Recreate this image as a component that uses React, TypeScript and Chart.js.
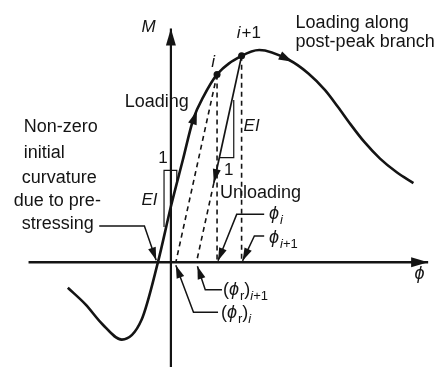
import React, { useEffect, useRef } from "react";
import { Chart, registerables } from "chart.js";

Chart.register(...registerables);

// Moment–curvature response (curvature phi, moment M), schematic units
const curvePhi = [-10.5, -8.7, -7.0, -5.0, -3.0, -1.3, 0.0, 1.2, 2.3, 3.3, 4.7, 7.2, 9.0, 12.0, 14.0, 15.7, 17.0, 18.3, 19.7, 21.3, 23.0, 24.7];
const curveM = [-2.6, -4.3, -6.3, -7.9, -5.9, 0.1, 5.7, 10.4, 14.7, 16.9, 19.2, 21.1, 21.7, 20.7, 19.3, 17.6, 15.9, 14.1, 12.3, 10.6, 9.2, 8.1];

// Load steps i and i+1 on the curve
const stepPhi = [4.7, 7.2];
const stepM = [19.2, 21.1];

// Residual curvature after unloading from step i and i+1
const residualPhi = [0.5, 2.6];

// Unloading arrow tip on the line from step i+1
const unloadTip = { phi: 4.37, m: 8.1 };

// Axis extents
const phiAxis = [-14.5, 26.2];
const mAxis = [-10.7, 23.9];

const INK = "#141414";
const SANS = "'Liberation Sans', Arial, 'DejaVu Sans', sans-serif";

type Pt = { x: number; y: number };
const pts = (xs: number[], ys: number[]): Pt[] => xs.map((x, k) => ({ x, y: ys[k] }));

type Run = { t: string; it?: boolean; sub?: boolean };
type Label = { at: [number, number]; size: number; runs: Run[] };

const labels: Label[] = [
  { at: [-3.0, 23.5], size: 17, runs: [{ t: "M", it: true }] },
  { at: [12.7, 23.9], size: 18, runs: [{ t: "Loading along" }] },
  { at: [12.7, 22.0], size: 18, runs: [{ t: "post-peak branch" }] },
  { at: [4.1, 20.0], size: 17, runs: [{ t: "i", it: true }] },
  { at: [6.7, 22.9], size: 17, runs: [{ t: "i", it: true }, { t: "+1" }] },
  { at: [-4.7, 15.9], size: 18, runs: [{ t: "Loading" }] },
  { at: [-15.0, 13.3], size: 18, runs: [{ t: "Non-zero" }] },
  { at: [-15.0, 10.7], size: 18, runs: [{ t: "initial" }] },
  { at: [-15.2, 8.1], size: 18, runs: [{ t: "curvature" }] },
  { at: [-16.0, 5.8], size: 18, runs: [{ t: "due to pre-" }] },
  { at: [-15.2, 3.4], size: 18, runs: [{ t: "stressing" }] },
  { at: [-1.3, 10.1], size: 17, runs: [{ t: "1" }] },
  { at: [-3.0, 5.9], size: 17, runs: [{ t: "EI", it: true }] },
  { at: [7.4, 13.4], size: 17, runs: [{ t: "EI", it: true }] },
  { at: [5.4, 8.9], size: 17, runs: [{ t: "1" }] },
  { at: [5.0, 6.6], size: 18, runs: [{ t: "Unloading" }] },
  { at: [10.0, 4.4], size: 18, runs: [{ t: "\u03D5", it: true }, { t: "i", it: true, sub: true }] },
  { at: [10.0, 2.0], size: 18, runs: [{ t: "\u03D5", it: true }, { t: "i", it: true, sub: true }, { t: "+1", sub: true }] },
  {
    at: [5.3, -3.3],
    size: 18,
    runs: [{ t: "(" }, { t: "\u03D5", it: true }, { t: "r", sub: true }, { t: ")" }, { t: "i", it: true, sub: true }, { t: "+1", sub: true }],
  },
  {
    at: [5.1, -5.7],
    size: 18,
    runs: [{ t: "(" }, { t: "\u03D5", it: true }, { t: "r", sub: true }, { t: ")" }, { t: "i", it: true, sub: true }],
  },
  { at: [24.8, -1.7], size: 18, runs: [{ t: "\u03D5", it: true }] },
];

// Arrowheads placed along the curve: tip and a point behind it giving direction
const curveArrows: { tip: [number, number]; from: [number, number] }[] = [
  { tip: [2.65, 15.5], from: [2.0, 13.6] },
  { tip: [12.4, 20.5], from: [11.0, 21.2] },
];

function App() {
  const ref = useRef<HTMLCanvasElement | null>(null);

  useEffect(() => {
    const canvas = ref.current;
    if (!canvas) return;

    const line = (data: Pt[], extra: any = {}) => ({
      data,
      showLine: true,
      borderColor: INK,
      backgroundColor: INK,
      borderWidth: 1.5,
      pointRadius: 0,
      tension: 0,
      ...extra,
    });

    const dashed = { borderDash: [5, 4], borderWidth: 1.6 };

    const datasets: any[] = [
      // axes
      line(pts(phiAxis, [0, 0]), { borderWidth: 2.5, arrow: true, headLen: 17, headHalf: 5 }),
      line(pts([0, 0], mAxis), { borderWidth: 2.2, arrow: true, headLen: 17, headHalf: 5 }),
      // main curve
      line(pts(curvePhi, curveM), { borderWidth: 2.6, cubicInterpolationMode: "monotone" }),
      // unloading paths
      line(pts([stepPhi[0], residualPhi[0]], [stepM[0], 0]), dashed),
      line(pts([unloadTip.phi, residualPhi[1]], [unloadTip.m, 0]), dashed),
      line(pts([stepPhi[1], unloadTip.phi], [stepM[1], unloadTip.m]), { borderWidth: 1.7, arrow: true, headLen: 14, headHalf: 4 }),
      // curvature at steps
      line(pts([stepPhi[0], stepPhi[0]], [stepM[0], 0]), dashed),
      line(pts([stepPhi[1], stepPhi[1]], [stepM[1], 0]), dashed),
      // stiffness triangles
      line(pts([-0.7, -0.7, 0.6, 0.6], [3.6, 9.4, 9.4, 8.0]), { borderWidth: 1.2 }),
      line(pts([4.9, 6.4, 6.4], [10.7, 10.7, 16.6]), { borderWidth: 1.2 }),
      // leader lines
      line(pts([-7.3, -2.7, -1.5], [3.7, 3.7, 0.2]), { arrow: true, headLen: 13, headHalf: 4 }),
      line(pts([9.5, 6.7, 4.8], [4.9, 4.9, 0.15]), { arrow: true, headLen: 13, headHalf: 4 }),
      line(pts([9.5, 8.5, 7.3], [2.7, 2.7, 0.15]), { arrow: true, headLen: 13, headHalf: 4 }),
      line(pts([5.2, 3.5, 2.7], [-2.8, -2.8, -0.4]), { arrow: true, headLen: 13, headHalf: 4 }),
      line(pts([4.8, 2.3, 0.5], [-5.1, -5.1, -0.3]), { arrow: true, headLen: 13, headHalf: 4 }),
      // step points
      {
        data: pts(stepPhi, stepM),
        showLine: false,
        pointRadius: 3.5,
        pointBackgroundColor: INK,
        pointBorderColor: INK,
        pointBorderWidth: 0,
      },
    ];

    const head = (ctx: CanvasRenderingContext2D, tx: number, ty: number, fx: number, fy: number, len: number, half: number) => {
      const a = Math.atan2(ty - fy, tx - fx);
      const bx = tx - len * Math.cos(a);
      const by = ty - len * Math.sin(a);
      const nx = -Math.sin(a) * half;
      const ny = Math.cos(a) * half;
      ctx.beginPath();
      ctx.moveTo(tx, ty);
      ctx.lineTo(bx + nx, by + ny);
      ctx.lineTo(bx - nx, by - ny);
      ctx.closePath();
      ctx.fill();
    };

    const schematic = {
      id: "schematic",
      afterDatasetsDraw(chart: any) {
        const { ctx, scales } = chart;
        const X = (v: number) => scales.x.getPixelForValue(v);
        const Y = (v: number) => scales.y.getPixelForValue(v);
        ctx.save();
        ctx.fillStyle = INK;
        // arrowheads at the ends of lines
        chart.data.datasets.forEach((ds: any) => {
          if (!ds.arrow) return;
          const d = ds.data;
          const a = d[d.length - 1];
          const b = d[d.length - 2];
          head(ctx, X(a.x), Y(a.y), X(b.x), Y(b.y), ds.headLen, ds.headHalf);
        });
        // arrowheads along the curve
        curveArrows.forEach((ar) => {
          head(ctx, X(ar.tip[0]), Y(ar.tip[1]), X(ar.from[0]), Y(ar.from[1]), 14, 4.5);
        });
        // text
        ctx.textBaseline = "alphabetic";
        ctx.textAlign = "left";
        labels.forEach((lb) => {
          let x = X(lb.at[0]);
          const y = Y(lb.at[1]);
          lb.runs.forEach((r) => {
            const size = r.sub ? Math.round(lb.size * 0.72) : lb.size;
            ctx.font = `${r.it ? "italic " : ""}${size}px ${SANS}`;
            ctx.fillText(r.t, x, r.sub ? y + 5 : y);
            x += ctx.measureText(r.t).width + (r.it && !r.sub ? 1 : 0);
          });
        });
        ctx.restore();
      },
    };

    const chart = new Chart(canvas, {
      type: "scatter",
      data: { datasets },
      options: {
        animation: false,
        responsive: false,
        maintainAspectRatio: false,
        layout: { padding: 0 },
        plugins: { legend: { display: false }, tooltip: { enabled: false } },
        events: [],
        scales: {
          x: { type: "linear", display: false, min: -17, max: 27 },
          y: { type: "linear", display: false, min: -10.7, max: 26.4 },
        },
      },
      plugins: [schematic],
    });

    return () => chart.destroy();
  }, []);

  return (
    <div style={{ position: "fixed", left: 0, top: 0, width: 440, height: 371, background: "#ffffff" }}>
      <canvas ref={ref} width={440} height={371} style={{ display: "block", width: 440, height: 371 }} />
    </div>
  );
}

export default App;
